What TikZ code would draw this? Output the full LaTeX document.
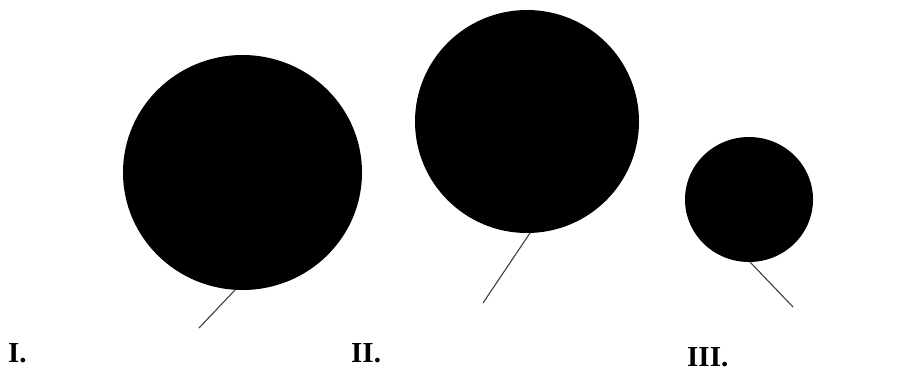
\documentclass[tikz,border=0pt]{standalone}
\usepackage{fontspec}
\setmainfont{Liberation Serif}
\usetikzlibrary{shapes.geometric}
\begin{document}
\begin{tikzpicture}[x=1pt,y=-1pt,
  ball/.style={ellipse,fill=black,draw=none,inner sep=0pt},
  stick/.style={draw=black!75,line width=1.1pt},
  lab/.style={anchor=base west,inner sep=0pt,font=\bfseries\fontsize{29}{29}\selectfont}]
\useasboundingbox[fill=white] (0,0) rectangle (917,376);
\node[ball,minimum width=239pt,minimum height=235pt] (c1) at (242.5,172.5) {};
\node[ball,minimum width=224pt,minimum height=223pt] (c2) at (527,121.5) {};
\node[ball,minimum width=128pt,minimum height=125pt] (c3) at (749,199.5) {};
\coordinate (a1) at (235,290);
\coordinate (t1) at (199,328);
\coordinate (a2) at (530,233);
\coordinate (t2) at (483,303);
\coordinate (a3) at (750,262);
\coordinate (t3) at (793,307);
\draw[stick] (a1) -- (t1);
\draw[stick] (a2) -- (t2);
\draw[stick] (a3) -- (t3);
\node[lab] (l1) at (8,362) {I.};
\node[lab] (l2) at (351,362) {II.};
\node[lab] (l3) at (687,366) {III.};
\end{tikzpicture}
\end{document}
